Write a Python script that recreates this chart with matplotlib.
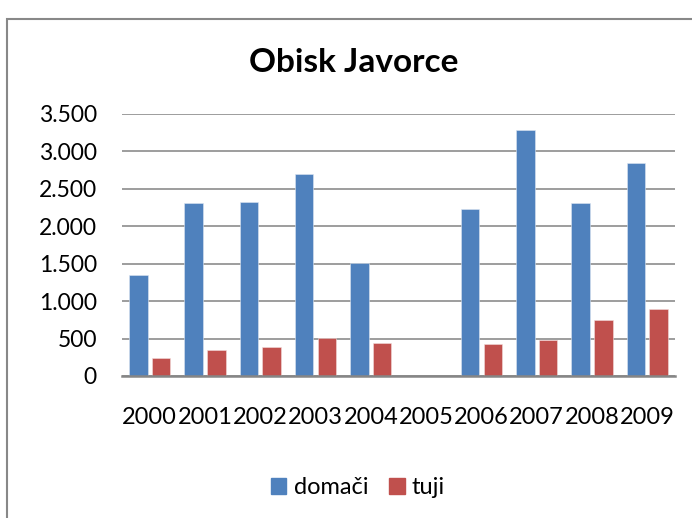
import matplotlib.pyplot as plt
import matplotlib.patches as mpatches
from matplotlib.ticker import FuncFormatter
import numpy as np

# podatki (odčitani s slike)
leta = ['2000', '2001', '2002', '2003', '2004', '2005', '2006', '2007', '2008', '2009']
domaci = [1350, 2310, 2320, 2700, 1510, 0, 2225, 3280, 2315, 2845]
tuji = [245, 352, 392, 512, 437, 0, 423, 481, 744, 891]

modra = '#4F81BD'
rdeca = '#C0504D'

plt.rcParams['font.family'] = ['Lato', 'DejaVu Sans']

fig = plt.figure(figsize=(6.92, 5.18), dpi=100)
ax = fig.add_axes([122 / 692, 1 - 376 / 518, 553 / 692, 262 / 518])

# okvir grafikona
fig.patches.append(mpatches.Rectangle((7 / 692, -0.1), 1.2, 1.1 - 18 / 518 - 0.002,
                                      transform=fig.transFigure, fill=False,
                                      edgecolor='#888888', linewidth=1.5))

x = np.arange(len(leta))
sirina = 0.335
ax.bar(x - 0.205, domaci, sirina, color=modra, edgecolor='#dce6f2', linewidth=0.4, zorder=3)
ax.bar(x + 0.205, tuji, sirina, color=rdeca, edgecolor='#f2dcdb', linewidth=0.4, zorder=3)

ax.set_xlim(-0.5, len(leta) - 0.5)
ax.set_ylim(0, 3500)
ax.set_yticks(np.arange(0, 3501, 500))
ax.yaxis.set_major_formatter(FuncFormatter(lambda v, p: f'{int(v):,}'.replace(',', '.')))
ax.set_xticks(x)
ax.set_xticklabels(leta)

ax.grid(axis='y', color='#8c8c8c', linewidth=1.2, zorder=0)
for s in ['top', 'right', 'left']:
    ax.spines[s].set_visible(False)
ax.spines['bottom'].set_color('#868686')
ax.spines['bottom'].set_linewidth(1.8)
ax.spines['bottom'].set_zorder(4)

ax.tick_params(axis='both', length=0, labelsize=16.5)
ax.tick_params(axis='x', pad=22, labelsize=17)
ax.tick_params(axis='y', pad=18)

fig.text(354 / 692, 1 - 63 / 518, 'Obisk Javorce', ha='center', va='center',
         fontsize=24, fontweight='bold')

rocaji = [mpatches.Patch(color=modra, label='domači'),
          mpatches.Patch(color=rdeca, label='tuji')]
fig.legend(handles=rocaji, loc='center', bbox_to_anchor=(358 / 692, 1 - 488 / 518),
           ncol=2, frameon=False, fontsize=17, handlelength=0.65, handleheight=0.65,
           handletextpad=0.3, columnspacing=0.9)

plt.savefig('out.png', dpi=100)
